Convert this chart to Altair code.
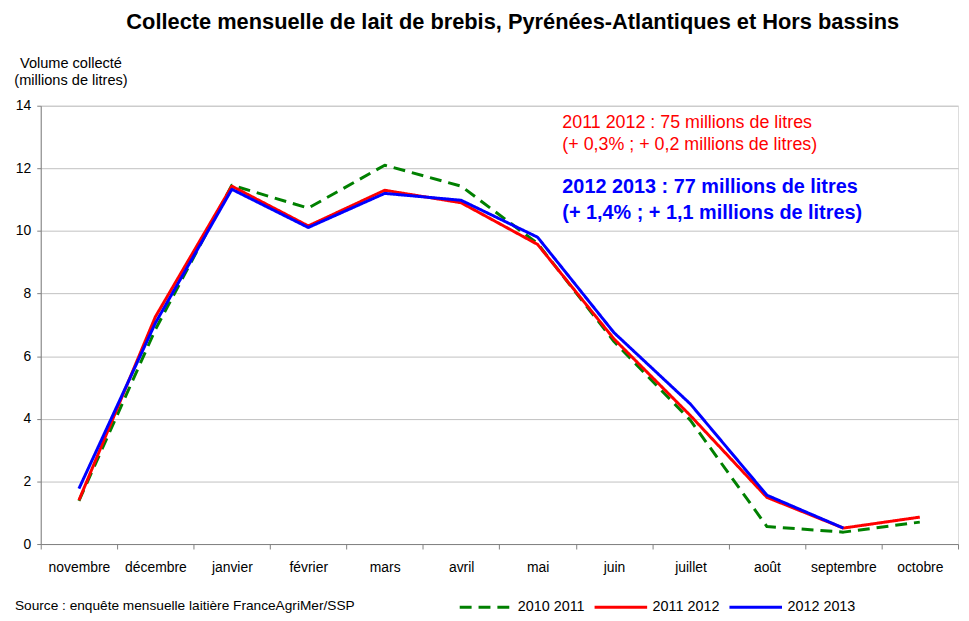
import altair as alt
import pandas as pd

months = ["novembre", "décembre", "janvier", "février", "mars", "avril",
          "mai", "juin", "juillet", "août", "septembre", "octobre"]
series = ["2010 2011", "2011 2012", "2012 2013"]
v_2010_2011 = [1.38, 6.85, 11.46, 10.73, 12.1, 11.43, 9.6, 6.47, 3.95, 0.56, 0.38, 0.7]
v_2011_2012 = [1.4, 7.26, 11.43, 10.16, 11.3, 10.9, 9.57, 6.55, 4.1, 1.49, 0.51, 0.86]
v_2012_2013 = [1.77, 7.06, 11.33, 10.11, 11.2, 10.98, 9.8, 6.75, 4.47, 1.56, 0.51, None]
y_ticks = [0, 2, 4, 6, 8, 10, 12, 14]

title_text = "Collecte mensuelle de lait de brebis, Pyrénées-Atlantiques et Hors bassins"
y_title = ["Volume collecté", "(millions de litres)"]
note_red = ["2011 2012 : 75 millions de litres", "(+ 0,3% ; + 0,2 millions de litres)"]
note_blue = ["2012 2013 : 77 millions de litres", "(+ 1,4% ; + 1,1 millions de litres)"]
source_text = "Source : enquête mensuelle laitière FranceAgriMer/SSP"

colors = ["#008000", "#ff0000", "#0000ff"]
widths = [3, 3, 4.5]
dashes = [[12, 7], [1, 0], [1, 0]]

rows = []
for s, vals in zip(series, [v_2010_2011, v_2011_2012, v_2012_2013]):
    for m, v in zip(months, vals):
        if v is not None:
            rows.append({"mois": m, "serie": s, "volume": v})
df = pd.DataFrame(rows)

FONT = "Liberation Sans"
W, H = 925, 442
SYM = 53

x_enc = alt.X(
    "mois:N", sort=months, bandPosition=0.5,
    scale=alt.Scale(type="band", domain=months, paddingInner=0, paddingOuter=0),
    axis=alt.Axis(title=None, tickBand="extent", grid=False, labelAngle=0,
                  labelFontSize=14, labelColor="#000", labelPadding=12,
                  tickSize=5, tickColor="#808080", domainColor="#808080",
                  labelFont=FONT),
)
y_enc = alt.Y(
    "volume:Q",
    scale=alt.Scale(domain=[0, 14], nice=False, zero=True),
    axis=alt.Axis(values=y_ticks, title=y_title, titleAngle=0, titleAlign="center",
                  titleBaseline="top", titleX=30, titleY=-51, titleFontSize=14.7,
                  titleFontWeight="normal", titleLineHeight=18, titleColor="#000",
                  titleFont=FONT,
                  labelFontSize=14, labelColor="#000", labelPadding=6, labelFont=FONT,
                  tickSize=4, tickColor="#808080", domainColor="#808080",
                  grid=True, gridColor="#c0c0c0", gridWidth=1),
)
legend = alt.Legend(
    title=None, orient="none", legendX=421, legendY=504 - SYM / 2, direction="horizontal",
    symbolType="stroke", symbolSize=SYM * SYM, labelFontSize=14.5, labelFont=FONT,
    labelColor="#000", columnPadding=3, labelOffset=4, padding=0,
)

base = alt.Chart(df).encode(
    x=x_enc,
    y=y_enc,
    color=alt.Color("serie:N", scale=alt.Scale(domain=series, range=colors), legend=legend),
    strokeDash=alt.StrokeDash("serie:N", scale=alt.Scale(domain=series, range=dashes), legend=legend),
    strokeWidth=alt.StrokeWidth("serie:N", scale=alt.Scale(domain=series, range=widths), legend=legend),
)

lines = [
    base.transform_filter(alt.datum.serie == s).mark_line(strokeJoin="round")
    for s in series
]


def text_layer(txt, x, y, size, color, weight="normal", align="left"):
    return alt.Chart(pd.DataFrame({"t": [txt]})).mark_text(
        align=align, baseline="middle", fontSize=size, font=FONT,
        color=color, fontWeight=weight,
    ).encode(text="t:N", x=alt.value(x), y=alt.value(y))


notes = [
    text_layer(title_text, 476, -84, 22, "#000", "bold", "center"),
    text_layer(note_red[0], 526, 17, 18, "#ff0000"),
    text_layer(note_red[1], 526, 40, 18, "#ff0000"),
    text_layer(note_blue[0], 526, 82, 20, "#0000ff", "bold"),
    text_layer(note_blue[1], 526, 108, 20, "#0000ff", "bold"),
    text_layer(source_text, -26, 505, 13.8, "#000"),
]

chart = alt.layer(*lines, *notes).properties(
    width=W, height=H,
    autosize=alt.AutoSizeParams(type="none"),
    padding={"left": 33, "top": 96, "right": 3, "bottom": 67},
).configure_view(stroke=None).configure(font=FONT)

chart.save("out.html", embed_options={"renderer": "svg", "actions": False})
